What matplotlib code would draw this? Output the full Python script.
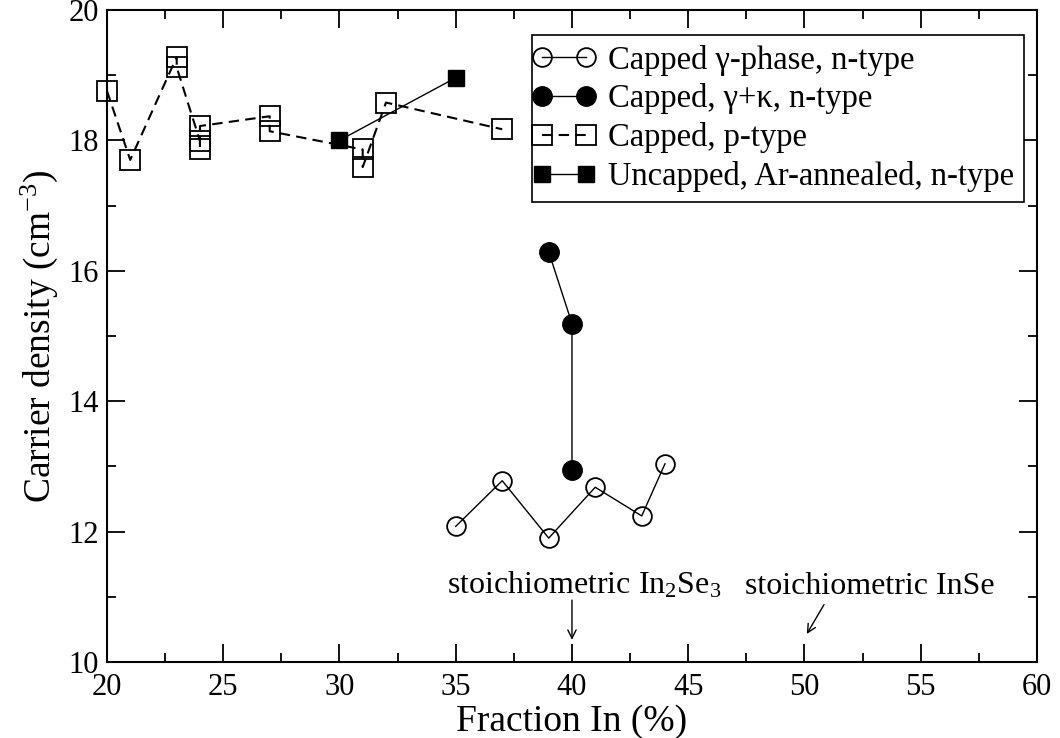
import matplotlib
matplotlib.use("Agg")
import matplotlib.pyplot as plt
from matplotlib.ticker import MultipleLocator
from matplotlib.lines import Line2D
from matplotlib.legend_handler import HandlerLine2D

plt.rcParams['font.family'] = ['Liberation Serif', 'DejaVu Serif']
plt.rcParams['mathtext.fontset'] = 'custom'
plt.rcParams['mathtext.rm'] = 'Liberation Serif'
plt.rcParams['mathtext.it'] = 'Liberation Serif:italic'
plt.rcParams['mathtext.default'] = 'rm'

# Data
gamma_x = [35, 37, 39, 41, 43, 44]
gamma_y = [12.08, 12.78, 11.90, 12.68, 12.24, 13.04]

gk_x = [39, 40, 40]
gk_y = [16.29, 15.19, 12.94]

ptype_x = [20, 21, 23, 23, 24, 24, 24, 27, 27, 31, 31, 32, 37]
ptype_y = [18.76, 17.70, 19.28, 19.12, 17.99, 17.87, 18.22, 18.37, 18.14,
           17.86, 17.59, 18.58, 18.17]

uncap_x = [30, 35]
uncap_y = [18.0, 18.96]

labels = ["Capped \u03b3-phase, n-type",
          "Capped, \u03b3+\u03ba, n-type",
          "Capped, p-type",
          "Uncapped, Ar-annealed, n-type"]

fig = plt.figure(figsize=(10.6, 7.38), dpi=100)
ax = fig.add_axes([0.1009, 0.103, 0.8774, 0.8835])

ax.plot(gamma_x, gamma_y, '-', color='black', lw=1.0, marker='o', ms=13.5,
        mfc='none', mec='black', mew=1.3, label=labels[0], clip_on=False)
ax.plot(gk_x, gk_y, '-', color='black', lw=1.0, marker='o', ms=14,
        mfc='black', mec='black', label=labels[1], clip_on=False)
ax.plot(ptype_x, ptype_y, linestyle=(0, (5, 3)), color='black', lw=1.5,
        marker='s', ms=14, mfc='none', mec='black', mew=1.3, label=labels[2],
        clip_on=False)
ax.plot(uncap_x, uncap_y, '-', color='black', lw=1.0, marker='s', ms=12,
        mfc='black', mec='black', label=labels[3], clip_on=False)

ax.set_xlim(20, 60)
ax.set_ylim(10, 20)
ax.xaxis.set_major_locator(MultipleLocator(5))
ax.xaxis.set_minor_locator(MultipleLocator(2.5))
ax.yaxis.set_major_locator(MultipleLocator(2))
ax.yaxis.set_minor_locator(MultipleLocator(1))
ax.tick_params(which='both', direction='in', top=True, right=True, width=1.3,
               labelsize=22)
ax.tick_params(axis='x', which='major', length=13, pad=8)
ax.tick_params(axis='y', which='major', length=13, pad=6)
ax.tick_params(which='minor', length=6.5)
for s in ax.spines.values():
    s.set_linewidth(1.5)

ax.set_xlabel("Fraction In (%)", fontsize=27, labelpad=2)
ax.set_ylabel("Carrier density (cm$^{-3}$)", fontsize=27, labelpad=6)

leg = ax.legend(loc='upper right', bbox_to_anchor=(0.986, 0.962),
                borderaxespad=0, fontsize=23.5, handlelength=1.35,
                handletextpad=0.67, labelspacing=0.24, borderpad=0.3,
                fancybox=False, framealpha=1, edgecolor='black',
                handler_map={Line2D: HandlerLine2D(numpoints=2, marker_pad=0.0)})
leg.get_frame().set_linewidth(1.2)

ax.text(34.62, 11.05, "stoichiometric In$_2$Se$_3$", fontsize=23,
        ha='left', va='baseline')
ax.text(47.44, 11.05, "stoichiometric InSe", fontsize=23,
        ha='left', va='baseline')
ax.annotate('', xy=(40, 10.34), xytext=(40, 10.95),
            arrowprops=dict(arrowstyle='->', lw=1.0, color='black',
                            shrinkA=0, shrinkB=0, mutation_scale=15))
ax.annotate('', xy=(50.1, 10.43), xytext=(50.84, 10.88),
            arrowprops=dict(arrowstyle='->', lw=1.0, color='black',
                            shrinkA=0, shrinkB=0, mutation_scale=15))

fig.savefig("out.png", dpi=100)
